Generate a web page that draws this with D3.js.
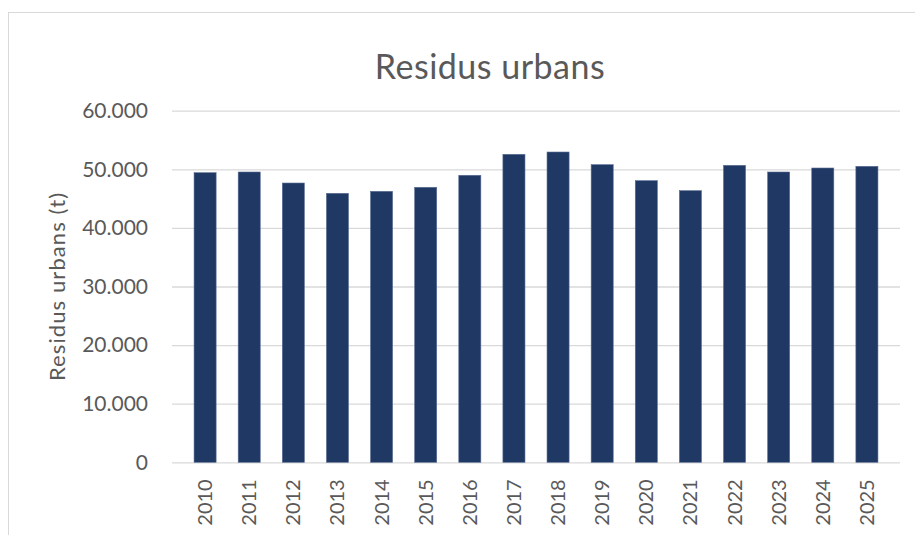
<!DOCTYPE html>
<html>
<head>
<meta charset="utf-8">
<script src="https://cdn.jsdelivr.net/npm/d3@7"></script>
<style>
  body { margin: 0; background: #fff; }
  svg { display: block; font-family: Lato, "Open Sans", sans-serif; }
</style>
</head>
<body>
<script>
const width = 915;
const height = 535;

// data
const years = ["2010", "2011", "2012", "2013", "2014", "2015", "2016", "2017",
  "2018", "2019", "2020", "2021", "2022", "2023", "2024", "2025"];
const tonnes = [49420, 49540, 47660, 45900, 46240, 46930, 48980, 52560,
  52950, 50790, 48060, 46350, 50680, 49540, 50220, 50510];
const yTicks = [0, 10000, 20000, 30000, 40000, 50000, 60000];

const margin = { top: 110.7, right: 15, bottom: 72.7, left: 172 };

const svg = d3.select("body").append("svg")
  .attr("width", width)
  .attr("height", height);

// chart frame
svg.append("rect")
  .attr("x", 8.5).attr("y", 12.5)
  .attr("width", 920).attr("height", 540)
  .attr("fill", "#fff")
  .attr("stroke", "#d9d9d9");

const x = d3.scaleBand()
  .domain(years)
  .range([margin.left, width - margin.right])
  .padding(0.5);

const y = d3.scaleLinear()
  .domain([0, 60000])
  .range([height - margin.bottom, margin.top]);

const fmt = d => d === 0 ? "0" : d3.format(",")(d).replace(/,/g, ".");

// grid + y labels
const yAxis = svg.append("g")
  .attr("transform", `translate(${margin.left},0)`)
  .call(d3.axisLeft(y).tickValues(yTicks).tickFormat(fmt)
    .tickSize(-(width - margin.right - margin.left)).tickPadding(24))
  .attr("font-family", null)
  .attr("font-size", null);
yAxis.select(".domain").remove();
yAxis.selectAll(".tick line").attr("stroke", "#d9d9d9").attr("stroke-width", 1.3);
yAxis.selectAll(".tick text")
  .attr("fill", "#595959")
  .style("font-size", "21px");

// bars
svg.append("g")
  .selectAll("rect")
  .data(years)
  .join("rect")
  .attr("x", d => x(d))
  .attr("width", x.bandwidth())
  .attr("y", (d, i) => y(tonnes[i]))
  .attr("height", (d, i) => y(0) - y(tonnes[i]))
  .attr("fill", "#203864")
  .attr("stroke", "#5a6e93")
  .attr("stroke-width", 0.6);

// x axis
const xAxis = svg.append("g")
  .attr("transform", `translate(0,${y(0)})`)
  .call(d3.axisBottom(x).tickSize(0).tickPadding(0))
  .attr("font-family", null)
  .attr("font-size", null);
xAxis.select(".domain").remove();
xAxis.selectAll(".tick text")
  .attr("fill", "#595959")
  .style("font-size", "20px")
  .attr("text-anchor", "end")
  .attr("y", 0)
  .attr("dy", "0.35em")
  .attr("transform", "translate(0,17) rotate(-90)");

// titles
svg.append("text")
  .attr("x", 490)
  .attr("y", 79)
  .attr("text-anchor", "middle")
  .attr("fill", "#595959")
  .style("font-size", "34px")
  .style("letter-spacing", "0.5px")
  .text("Residus urbans");

svg.append("text")
  .attr("transform", `translate(65,${(y(0) + y(60000)) / 2}) rotate(-90)`)
  .attr("text-anchor", "middle")
  .attr("fill", "#595959")
  .style("font-size", "22px")
  .style("letter-spacing", "1.1px")
  .text("Residus urbans (t)");
</script>
</body>
</html>
